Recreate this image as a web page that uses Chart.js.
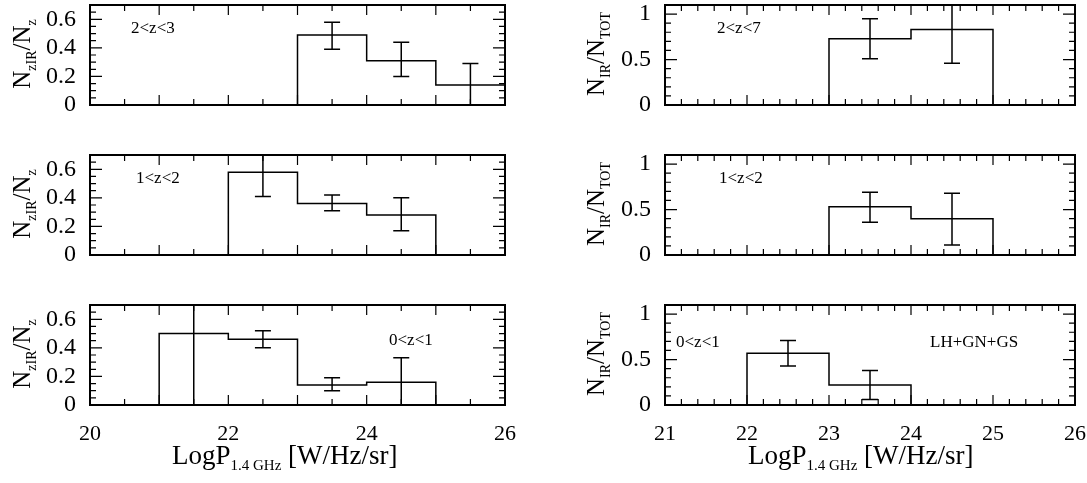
<!DOCTYPE html>
<html>
<head>
<meta charset="utf-8">
<script src="https://cdn.jsdelivr.net/npm/chart.js@4"></script>
<style>
  body { margin: 0; background: #fff; width: 1087px; height: 483px; position: relative; overflow: hidden; font-family: "Liberation Serif", serif; }
  canvas { position: absolute; }
  .lbl { position: absolute; font-size: 17px; color: #000; white-space: nowrap; }
  .ytitle { position: absolute; font-size: 25px; transform: rotate(-90deg); transform-origin: center; white-space: nowrap; text-align: center; width: 140px; }
  .ytitle sub { font-size: 14px; }
  .xtitle { position: absolute; font-size: 27px; white-space: nowrap; }
  .xtitle sub { font-size: 15px; }
</style>
</head>
<body>
<canvas id="c0"></canvas><canvas id="c1"></canvas><canvas id="c2"></canvas>
<canvas id="c3"></canvas><canvas id="c4"></canvas><canvas id="c5"></canvas>
<script>
// bin edges and values per panel (left: N_zIR/N_z, right: N_IR/N_TOT)
const leftEdges = [[23, 24, 25, 26], [22, 23, 24, 25], [21, 22, 23, 24, 25]];
const leftValues = [[0.49, 0.31, 0.14], [0.58, 0.36, 0.28], [0.50, 0.46, 0.14, 0.16]];
const leftErrLo = [[0.39, 0.20, 0.0], [0.41, 0.31, 0.17], [0.0, 0.40, 0.10, 0.0]];
const leftErrHi = [[0.58, 0.44, 0.29], [0.72, 0.42, 0.40], [0.75, 0.52, 0.19, 0.33]];
const leftLabels = ['2<z<3', '1<z<2', '0<z<1'];

const rightEdges = [[23, 24, 25], [23, 24, 25], [22, 23, 24]];
const rightValues = [[0.73, 0.83], [0.53, 0.40], [0.57, 0.22]];
const rightErrLo = [[0.51, 0.46], [0.36, 0.11], [0.43, 0.06]];
const rightErrHi = [[0.95, 1.15], [0.69, 0.68], [0.71, 0.38]];
const rightLabels = ['2<z<7', '1<z<2', '0<z<1'];

const leftXTicks = [20, 22, 24, 26];
const rightXTicks = [21, 22, 23, 24, 25, 26];
const leftYTicks = [0, 0.2, 0.4, 0.6];
const rightYTicks = [0, 0.5, 1];

const FONT = '"Liberation Serif", serif';

// histogram outline: corner points of each bin
function histPoints(edges, vals) {
  const pts = [{ x: edges[0], y: 0 }];
  vals.forEach((v, i) => {
    pts.push({ x: edges[i], y: v });
    pts.push({ x: edges[i + 1], y: v });
  });
  pts.push({ x: edges[edges.length - 1], y: 0 });
  return pts;
}

// frame, inward ticks and error bars
const framePlugin = {
  id: 'frame',
  afterDatasetsDraw(chart, args, o) {
    const { ctx, chartArea: a, scales: { x, y } } = chart;
    ctx.save();
    ctx.strokeStyle = '#000';
    ctx.lineWidth = 1.5;
    o.errLo.forEach((lo, i) => {
      const cx = x.getPixelForValue((o.edges[i] + o.edges[i + 1]) / 2);
      const y1 = Math.max(y.getPixelForValue(o.errHi[i]), a.top);
      const y0 = y.getPixelForValue(lo);
      ctx.beginPath();
      ctx.moveTo(cx, y0); ctx.lineTo(cx, y1);
      if (o.errHi[i] <= y.max) { ctx.moveTo(cx - 8, y1); ctx.lineTo(cx + 8, y1); }
      if (lo > 0) { ctx.moveTo(cx - 8, y0); ctx.lineTo(cx + 8, y0); }
      ctx.stroke();
    });
    ctx.lineWidth = 1.2;
    ctx.beginPath();
    for (let v = x.min; v <= x.max + 1e-6; v += o.xMinor) {
      const px = x.getPixelForValue(v);
      const len = Math.abs(v - Math.round(v / o.xMajor) * o.xMajor) < 1e-6 ? 10 : 6;
      ctx.moveTo(px, a.bottom); ctx.lineTo(px, a.bottom - len);
      ctx.moveTo(px, a.top); ctx.lineTo(px, a.top + len);
    }
    for (let v = 0; v <= y.max + 1e-6; v += o.yMinor) {
      const py = y.getPixelForValue(v);
      const len = Math.abs(v - Math.round(v / o.yMajor) * o.yMajor) < 1e-6 ? 12 : 6;
      ctx.moveTo(a.left, py); ctx.lineTo(a.left + len, py);
      ctx.moveTo(a.right, py); ctx.lineTo(a.right - len, py);
    }
    ctx.stroke();
    ctx.lineWidth = 2;
    ctx.strokeRect(a.left, a.top, a.right - a.left, a.bottom - a.top);
    ctx.restore();
  }
};

function makePanel(id, left, top, width, height, bottom, cfg) {
  const el = document.getElementById(id);
  el.style.left = left + 'px';
  el.style.top = top + 'px';
  el.width = width;
  el.height = height;
  el.style.width = width + 'px';
  el.style.height = height + 'px';
  new Chart(el, {
    type: 'line',
    data: {
      datasets: [{
        data: histPoints(cfg.edges, cfg.vals),
        borderColor: '#000',
        borderWidth: 1.5,
        pointRadius: 0,
        fill: false
      }]
    },
    options: {
      responsive: false,
      animation: false,
      devicePixelRatio: 1,
      layout: { autoPadding: false, padding: { top: 5, right: 12, bottom: 0, left: 0 } },
      plugins: { legend: { display: false }, tooltip: { enabled: false }, frame: cfg },
      scales: {
        x: {
          type: 'linear', min: cfg.xmin, max: cfg.xmax,
          grid: { display: false }, border: { display: false },
          afterBuildTicks: s => { s.ticks = cfg.xTicks.map(v => ({ value: v })); },
          afterFit: s => { s.height = bottom ? 78 : 20; s.paddingLeft = 0; s.paddingRight = 0; },
          ticks: { display: bottom, autoSkip: false, color: '#000', padding: 8, maxRotation: 0, font: { family: FONT, size: 22 } }
        },
        y: {
          min: 0, max: cfg.ymax,
          grid: { display: false }, border: { display: false },
          afterBuildTicks: s => { s.ticks = cfg.yTicks.map(v => ({ value: v })); },
          afterFit: s => { s.width = cfg.yw; s.paddingTop = 0; s.paddingBottom = 0; },
          ticks: { autoSkip: false, color: '#000', padding: 6, font: { family: FONT, size: 24 }, callback: v => String(v) }
        }
      }
    },
    plugins: [framePlugin]
  });
}

const rowTops = [0, 150, 300];
for (let r = 0; r < 3; r++) {
  const bottom = r === 2;
  const h = bottom ? 183 : 125;
  makePanel('c' + (r * 2), 0, rowTops[r], 517, h, bottom, {
    edges: leftEdges[r], vals: leftValues[r], errLo: leftErrLo[r], errHi: leftErrHi[r],
    xmin: 20, xmax: 26, ymax: 0.7, xTicks: leftXTicks, yTicks: leftYTicks,
    xMinor: 0.5, xMajor: 1, yMinor: 0.05, yMajor: 0.2, yw: 90
  });
  makePanel('c' + (r * 2 + 1), 575, rowTops[r], 512, h, bottom, {
    edges: rightEdges[r], vals: rightValues[r], errLo: rightErrLo[r], errHi: rightErrHi[r],
    xmin: 21, xmax: 26, ymax: 1.1, xTicks: rightXTicks, yTicks: rightYTicks,
    xMinor: 0.2, xMajor: 1, yMinor: 0.1, yMajor: 0.5, yw: 90
  });
}

function addDiv(cls, html, x, y) {
  const d = document.createElement('div');
  d.className = cls;
  d.innerHTML = html;
  d.style.left = x + 'px';
  d.style.top = y + 'px';
  document.body.appendChild(d);
}
const esc = s => s.replace(/</g, '&lt;');
addDiv('lbl', esc(leftLabels[0]), 131, 18);
addDiv('lbl', esc(leftLabels[1]), 136, 168);
addDiv('lbl', esc(leftLabels[2]), 389, 330);
addDiv('lbl', esc(rightLabels[0]), 717, 18);
addDiv('lbl', esc(rightLabels[1]), 719, 168);
addDiv('lbl', esc(rightLabels[2]), 676, 332);
addDiv('lbl', 'LH+GN+GS', 930, 332);
for (let r = 0; r < 3; r++) {
  addDiv('ytitle', 'N<sub>zIR</sub>/N<sub>z</sub>', -46, rowTops[r] + 38);
  addDiv('ytitle', 'N<sub>IR</sub>/N<sub>TOT</sub>', 528, rowTops[r] + 38);
}
addDiv('xtitle', 'LogP<sub>1.4 GHz</sub> [W/Hz/sr]', 172, 440);
addDiv('xtitle', 'LogP<sub>1.4 GHz</sub> [W/Hz/sr]', 748, 440);
</script>
</body>
</html>
